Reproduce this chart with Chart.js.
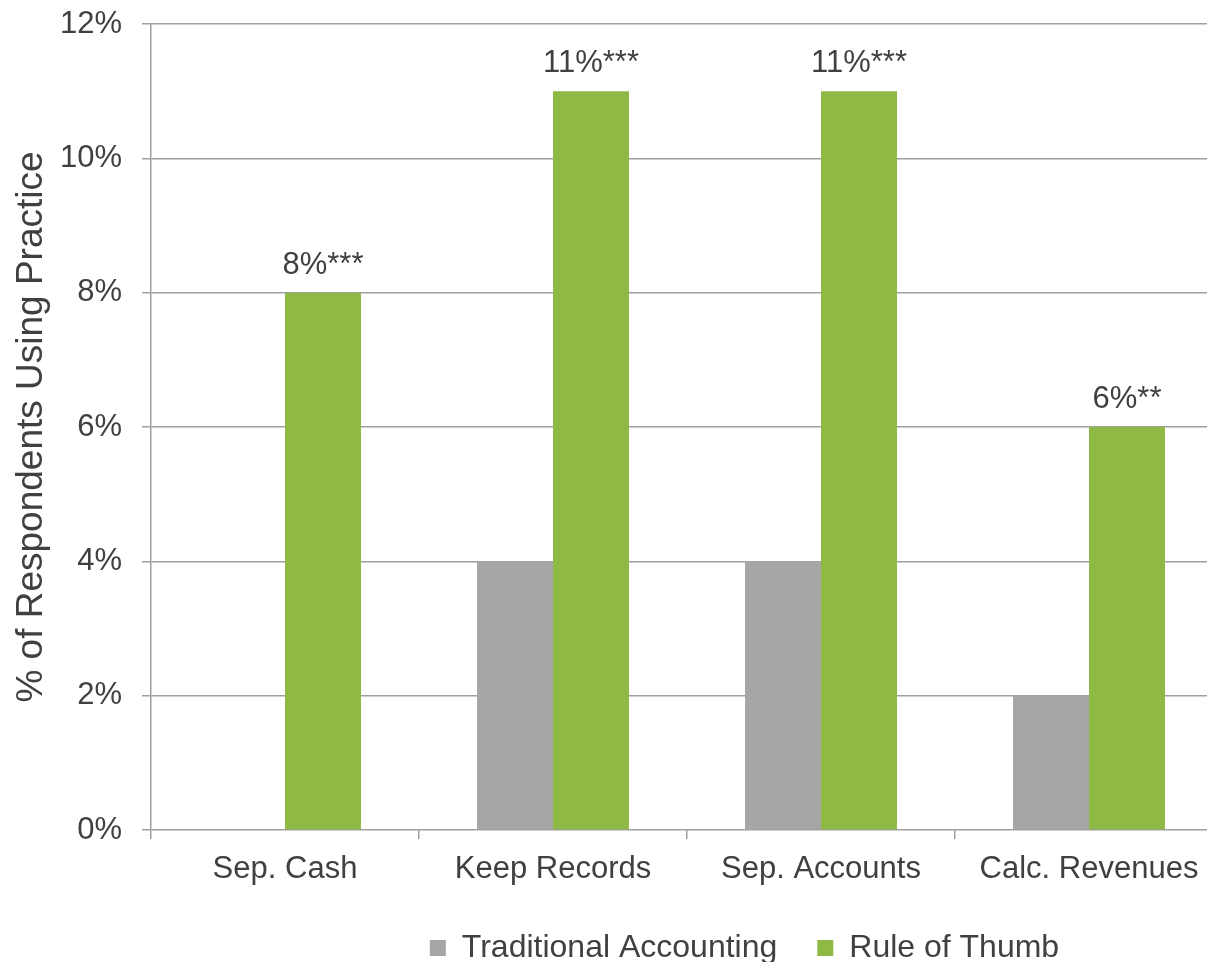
<!DOCTYPE html>
<html>
<head>
<meta charset="utf-8">
<script src="https://cdn.jsdelivr.net/npm/chart.js@4"></script>
<style>
  html, body { margin: 0; padding: 0; background: #fff; overflow: hidden; }
  #wrap { width: 1240px; height: 962px; }
</style>
</head>
<body>
<div id="wrap"><canvas id="practices"></canvas></div>
<script>
const categories = ["Sep. Cash", "Keep Records", "Sep. Accounts", "Calc. Revenues"];
const traditional = [0, 4, 4, 2];
const ruleOfThumb = [8, 11, 11, 6];
const significance = ["***", "***", "***", "**"];
const yTicks = [0, 2, 4, 6, 8, 10, 12];

const textColor = "#404040";
const lineColor = "#a0a0a0";
const font = "'Liberation Sans', Arial, sans-serif";

// put the value + stars above each green bar
const barLabels = {
  id: "barLabels",
  afterDatasetsDraw(chart) {
    const ctx = chart.ctx;
    const meta = chart.getDatasetMeta(1);
    ctx.save();
    ctx.font = "31px " + font;
    ctx.fillStyle = textColor;
    ctx.textAlign = "center";
    ctx.textBaseline = "alphabetic";
    meta.data.forEach((bar, i) => {
      ctx.fillText(ruleOfThumb[i] + "%" + significance[i], bar.x, bar.y - 19);
    });
    ctx.restore();
  }
};

// nudge the legend sideways, it sits right of centre
const legendShift = {
  id: "legendShift",
  afterLayout(chart) {
    const lg = chart.legend;
    lg.left += 133;
    lg.right += 133;
  }
};

new Chart(document.getElementById("practices"), {
  type: "bar",
  data: {
    labels: categories,
    datasets: [
      { label: "Traditional Accounting", data: traditional, backgroundColor: "#a6a6a6" },
      { label: "Rule of Thumb", data: ruleOfThumb, backgroundColor: "#8db944" }
    ]
  },
  options: {
    responsive: true,
    maintainAspectRatio: false,
    animation: false,
    layout: { padding: { top: 24, right: 17, left: 0, bottom: -12 } },
    datasets: { bar: { categoryPercentage: 0.567, barPercentage: 1.0 } },
    plugins: {
      tooltip: { enabled: false },
      legend: {
        position: "bottom",
        labels: {
          font: { family: font, size: 32 },
          color: textColor,
          boxWidth: 16,
          boxHeight: 16,
          padding: 40
        }
      }
    },
    scales: {
      x: {
        grid: { drawOnChartArea: false, color: lineColor, lineWidth: 1.5, tickLength: 9 },
        border: { display: false },
        ticks: { font: { family: font, size: 31 }, color: textColor, padding: 12, maxRotation: 0 },
        afterFit(scale) { scale.height = 62; }
      },
      y: {
        min: 0,
        max: 12,
        afterBuildTicks(scale) { scale.ticks = yTicks.map(v => ({ value: v })); },
        grid: { color: lineColor, lineWidth: 1.5, tickLength: 9 },
        border: { display: true, color: lineColor, width: 1.5 },
        ticks: { font: { family: font, size: 31 }, color: textColor, padding: 20, callback: v => v + "%" },
        title: {
          display: true,
          text: "% of Respondents Using Practice",
          font: { family: font, size: 37 },
          color: textColor,
          padding: { top: 10, bottom: 0 }
        },
        afterFit(scale) {
          scale.width = 151;
          scale.paddingTop = 0;
          scale.paddingBottom = 0;
        }
      }
    }
  },
  plugins: [barLabels, legendShift]
});
</script>
</body>
</html>
